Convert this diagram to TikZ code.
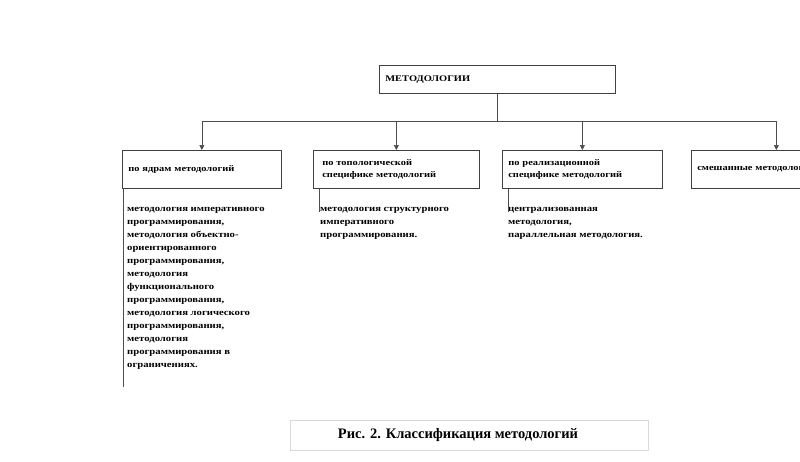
\documentclass[tikz,border=0pt]{standalone}
\usepackage{fontspec}
\setmainfont{Liberation Serif}[FakeStretch=1.2]
\newfontfamily\capfont{Liberation Serif}
\usetikzlibrary{arrows.meta}

\tikzset{
  box/.style={draw=black!75, line width=0.7pt, minimum height=38pt, inner xsep=6pt,
    anchor=north west, align=left, font=\fontsize{8.7}{12}\selectfont\bfseries},
  listtext/.style={anchor=north west, inner sep=0pt, align=left,
    font=\fontsize{8.9}{13}\selectfont\bfseries},
  link/.style={draw=black!70, line width=0.7pt},
  arr/.style={link, -{Triangle[length=5pt,width=5pt]}}
}

\begin{document}
\begin{tikzpicture}[x=1pt, y=-1pt]
      \useasboundingbox (0,0) rectangle (800,461);
      % boxes
      \node[box, minimum width=236pt, minimum height=28pt, text width=224pt] (top) at (379,65) {МЕТОДОЛОГИИ\\[2pt]};
      \node[box, minimum width=159pt, text width=147pt] (b1) at (122,150) {по ядрам методологий\\[5pt]};
      \node[box, minimum width=160pt, text width=148pt, inner xsep=9pt] (b2) at (313,150) {по топологической\\специфике методологий\\[1pt]};
      \node[box, minimum width=160pt, text width=148pt] (b3) at (502,150) {по реализационной\\специфике методологий\\[1pt]};
      \node[box, minimum width=170pt, text width=158pt] (b4) at (691,150) {смешанные методологии\\[5pt]};
      % bus
      \coordinate (bus) at (0,121);
      \draw[link] (top.south) -- (top.south |- bus);
      \draw[link] (b1.north |- bus) -- (b4.north |- bus);
      \foreach \b in {b1,b2,b3,b4}
        \draw[arr] (\b.north |- bus) -- (\b.north);
      % lists
      \node[listtext] (l1) at (127,207) {методология императивного\\программирования,\\методология объектно-\\ориентированного\\программирования,\\методология\\функционального\\программирования,\\методология логического\\программирования,\\методология\\программирования в\\ограничениях.};
      \node[listtext] (l2) at (320,207) {методология структурного\\императивного\\программирования.};
      \node[listtext] (l3) at (508,207) {централизованная\\методология,\\параллельная методология.};
      \coordinate (e1) at (123,387);
      \coordinate (e2) at (319,212);
      \coordinate (e3) at (508,212);
      \draw[link] (b1.south west -| e1) -- (e1);
      \draw[link] (b2.south west -| e2) -- (e2);
      \draw[link] (b3.south west -| e3) -- (e3);
      % caption
      \node[draw=black!15, line width=0.7pt, minimum width=358pt, minimum height=30pt,
        font=\capfont\fontsize{14.5}{16}\selectfont\bfseries] (cap) at (469,435)
        {\hspace*{-22pt}Рис. 2. Классификация методологий};
\end{tikzpicture}
\end{document}
